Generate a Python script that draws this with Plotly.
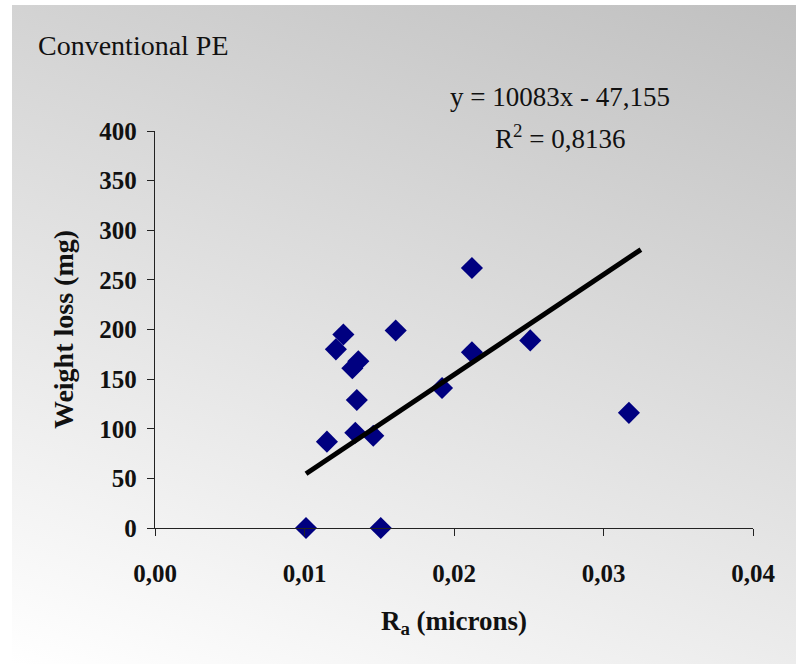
import plotly.graph_objects as go
import urllib.parse

# ---- data ----
ra_microns = [0.0101, 0.0151, 0.0115, 0.0126, 0.0121, 0.0132, 0.0136, 0.0135,
              0.0134, 0.0146, 0.0161, 0.0192, 0.0212, 0.0212, 0.0251, 0.0317]
weight_loss_mg = [0, 0, 87, 195, 180, 161, 168, 129, 96, 93, 199, 141, 262, 177, 189, 116]

trend_slope = 10083
trend_intercept = -47.155
trend_x = [0.0101, 0.0325]
trend_y = [trend_slope * x + trend_intercept for x in trend_x]

x_ticks = [0.00, 0.01, 0.02, 0.03, 0.04]
x_tick_labels = ["0,00", "0,01", "0,02", "0,03", "0,04"]
y_ticks = [0, 50, 100, 150, 200, 250, 300, 350, 400]

equation_text = "y = 10083x - 47,155"
r2_text = "R<sup>2</sup> = 0,8136"

# ---- figure ----
W, H = 796, 664
L, R, T, B = 155, 43, 131, 136
pw, ph = W - L - R, H - T - B

serif = "Liberation Serif, Times New Roman, serif"

fig = go.Figure()

fig.add_trace(go.Scatter(
    x=ra_microns, y=weight_loss_mg, mode="markers",
    marker=dict(symbol="diamond", size=17, color="#000080",
                line=dict(width=0)),
    showlegend=False, cliponaxis=False))

fig.add_trace(go.Scatter(
    x=trend_x, y=trend_y, mode="lines",
    line=dict(color="black", width=5),
    showlegend=False))

# gradient background as SVG image
svg = ('<svg xmlns="http://www.w3.org/2000/svg" width="784" height="659" '
       'viewBox="0 0 784 659" preserveAspectRatio="none">'
       '<defs><linearGradient id="g" gradientUnits="userSpaceOnUse" '
       'x1="0" y1="659" x2="303" y2="-175">'
       '<stop offset="0" stop-color="#ffffff"/>'
       '<stop offset="1" stop-color="#c0c0c0"/>'
       '</linearGradient></defs>'
       '<rect width="784" height="659" fill="url(#g)"/></svg>')
src = "data:image/svg+xml;charset=utf-8," + urllib.parse.quote(svg)

x0 = (12 - L) / pw
x1 = (W - L) / pw
y0 = (H - B - 5) / ph
y1 = (H - B - H) / ph

fig.update_layout(
    width=W, height=H,
    margin=dict(l=L, r=R, t=T, b=B, pad=0),
    paper_bgcolor="white",
    plot_bgcolor="rgba(0,0,0,0)",
    images=[dict(source=src, xref="paper", yref="paper",
                 x=x0, y=y0, sizex=x1 - x0, sizey=y0 - y1,
                 xanchor="left", yanchor="top", sizing="stretch",
                 layer="below")],
    title=dict(text="Conventional PE", x=38 / W, xanchor="left",
               xref="container", y=1 - 45 / H, yanchor="middle",
               yref="container",
               font=dict(family=serif, size=28, color="#111")),
    font=dict(family=serif, color="#111"),
    xaxis=dict(range=[0, 0.04], tickvals=x_ticks, ticktext=x_tick_labels,
               showgrid=False, zeroline=False, showline=True,
               linecolor="#222", linewidth=1.3, ticks="outside",
               ticklen=7, tickcolor="#222", tickwidth=1.3,
               ticklabelstandoff=16,
               tickfont=dict(family=serif, size=25, color="#111",
                             weight="bold"),
               title=dict(text="R<sub>a</sub> (microns)", standoff=24,
                          font=dict(family=serif, size=27, color="#111",
                                    weight="bold"))),
    yaxis=dict(range=[0, 400], tickvals=y_ticks,
               showgrid=False, zeroline=False, showline=True,
               linecolor="#222", linewidth=1.3, ticks="outside",
               ticklen=7, tickcolor="#222", tickwidth=1.3,
               ticklabelstandoff=5,
               tickfont=dict(family=serif, size=25, color="#111",
                             weight="bold"),
               title=dict(text="Weight loss (mg)", standoff=17,
                          font=dict(family=serif, size=28, color="#111",
                                    weight="bold"))),
    annotations=[
        dict(text=equation_text, xref="paper", yref="paper",
             x=(560 - L) / pw, y=(H - B - 97) / ph, showarrow=False,
             xanchor="center", yanchor="middle",
             font=dict(family=serif, size=27, color="#111")),
        dict(text=r2_text, xref="paper", yref="paper",
             x=(560 - L) / pw, y=(H - B - 137) / ph, showarrow=False,
             xanchor="center", yanchor="middle",
             font=dict(family=serif, size=27, color="#111")),
    ],
)

fig.write_html("out.html")
